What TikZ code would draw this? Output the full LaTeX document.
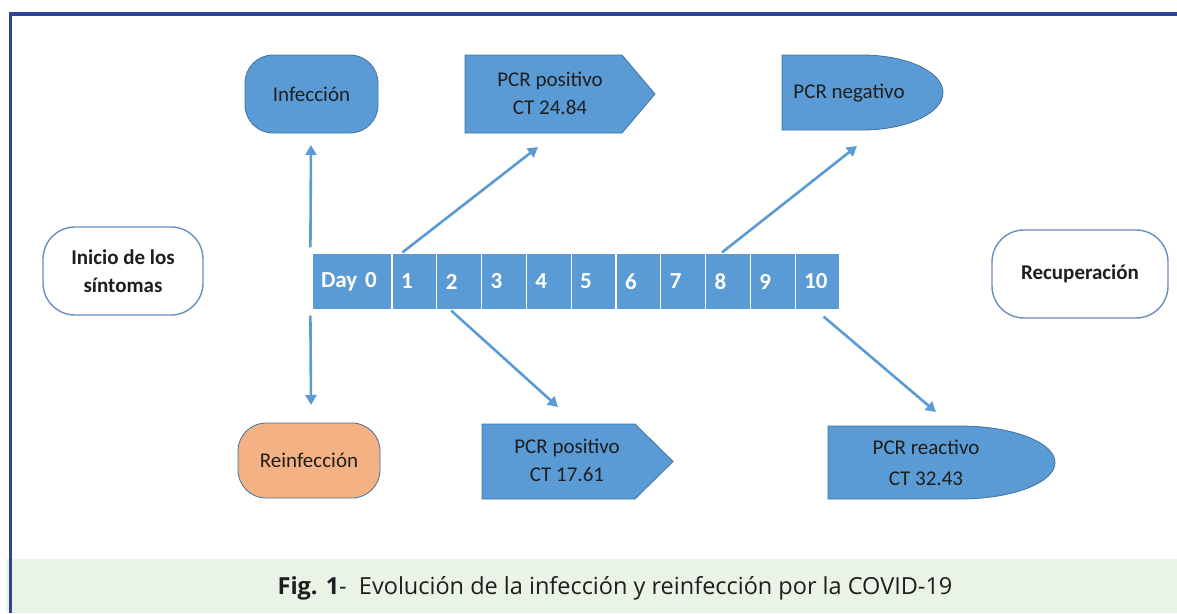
\documentclass[tikz,border=0pt]{standalone}
\usepackage{fontspec}
\setmainfont{Carlito}
\newfontfamily\capfont{Open Sans}
\usetikzlibrary{arrows.meta,calc}
\definecolor{frameblue}{HTML}{2E4496}
\definecolor{boxblue}{HTML}{5B9BD5}
\definecolor{boxedge}{HTML}{41719C}
\definecolor{outline}{HTML}{6A8EC0}
\definecolor{peach}{HTML}{F4B183}
\definecolor{band}{HTML}{E9F3E6}
\definecolor{ink}{HTML}{1E1E1E}
\newcommand\dgtxt{\fontsize{21}{28}\selectfont}
\newcommand\daytxt{\fontsize{23}{28}\selectfont\bfseries}
\begin{document}
\begin{tikzpicture}[x=1pt,y=1pt,
  term/.style={rounded corners=#1, inner sep=0pt, align=center, font=\dgtxt, text=ink},
  termblue/.style={term=28pt, draw=boxedge, line width=0.8pt, fill=boxblue},
  termwhite/.style={term=32pt, draw=outline, line width=1.4pt, fill=white, font=\dgtxt\bfseries},
  termpeach/.style={term=28pt, draw=boxedge, line width=0.8pt, fill=peach},
  shapeblue/.style={draw=boxedge, line width=0.8pt, fill=boxblue},
  label/.style={inner sep=0pt, align=center, font=\dgtxt, text=ink},
  daycell/.style={draw=white, line width=1.2pt, fill=boxblue, minimum height=57pt,
    inner xsep=9pt, inner ysep=0pt, align=left, text=white, font=\daytxt},
  conn/.style={draw=boxblue, line width=2.6pt, -{Triangle[length=10pt,width=11pt]}}
]
\useasboundingbox (0,0) rectangle (1177,-613);
% caption band and frame
\fill[band] (6,-559) rectangle (1177,-613);
\draw[frameblue, line width=3.6pt] (10.3,-613) -- (10.3,-13.7) -- (1177,-13.7);

% day bar
\node[daycell, text width=62pt] (d0) at (352,-281.5) {Day 0};
\foreach \i in {1,...,10}{
  \node[daycell, text width=26.8pt] (d\i) at ({392+44.8*(\i-0.5)},-281.5) {\i};
}

% side terminals
\node[termwhite, minimum width=160pt, minimum height=88pt] (inicio) at (123,-271) {Inicio de los\\síntomas};
\node[termwhite, minimum width=176pt, minimum height=88pt] (recup) at (1080,-274) {Recuperación};

% infection / reinfection
\node[termblue, minimum width=133pt, minimum height=78pt] (inf) at (311.5,-94) {Infección};
\node[termpeach, minimum width=142pt, minimum height=75pt] (reinf) at (309,-460.5) {Reinfección};

% PCR shapes
\path[shapeblue] (465,-55) -- (622,-55) -- (655,-94) -- (622,-133) -- (465,-133) -- cycle;
\node[label] (pcr1) at (550,-93) {PCR positivo\\CT 24.84};

\path[shapeblue] (482,-424) -- (635,-424) -- (673,-461.5) -- (635,-499) -- (482,-499) -- cycle;
\node[label] (pcr2) at (567,-460.5) {PCR positivo\\CT 17.61};

\path[shapeblue] (782,-55) -- (862,-55) arc[start angle=90,end angle=-90,x radius=81,y radius=37.5] -- (782,-130) -- cycle;
\node[label] (pcrneg) at (849,-93) {PCR negativo};

\path[shapeblue] (828,-426) -- (960,-426) arc[start angle=90,end angle=-90,x radius=95,y radius=36.5] -- (828,-499) -- cycle;
\node[label, font=\fontsize{21}{31}\selectfont] (pcrre) at (926,-462.5) {PCR reactivo\\CT 32.43};

% arrow end points
\coordinate (eInf) at (311,-145);
\coordinate (eReinf) at (311,-405);
\coordinate (ePcr1) at (538,-147);
\coordinate (eNeg) at (857,-146);
\coordinate (ePcr2) at (558,-407);
\coordinate (eRe) at (936,-412);

% connectors
\draw[conn] ([xshift=-1pt,yshift=5pt]d0.north west) -- (eInf);
\draw[conn] ([xshift=-1pt,yshift=-5pt]d0.south west) -- (eReinf);
\draw[conn] ([xshift=11pt]d1.north west) -- (ePcr1);
\draw[conn] ([xshift=17pt]d8.north west) -- (eNeg);
\draw[conn] ([xshift=15pt]d2.south west) -- (ePcr2);
\draw[conn] ([xshift=29pt,yshift=-6pt]d10.south west) -- (eRe);

% caption
\node[inner sep=0pt, anchor=base, text=ink, font=\capfont\fontsize{23.5}{28}\selectfont] (cap) at (615,-594.3)
  {{\bfseries Fig. 1}-\ \ Evolución de la infección y reinfección por la COVID-19};
\end{tikzpicture}
\end{document}
